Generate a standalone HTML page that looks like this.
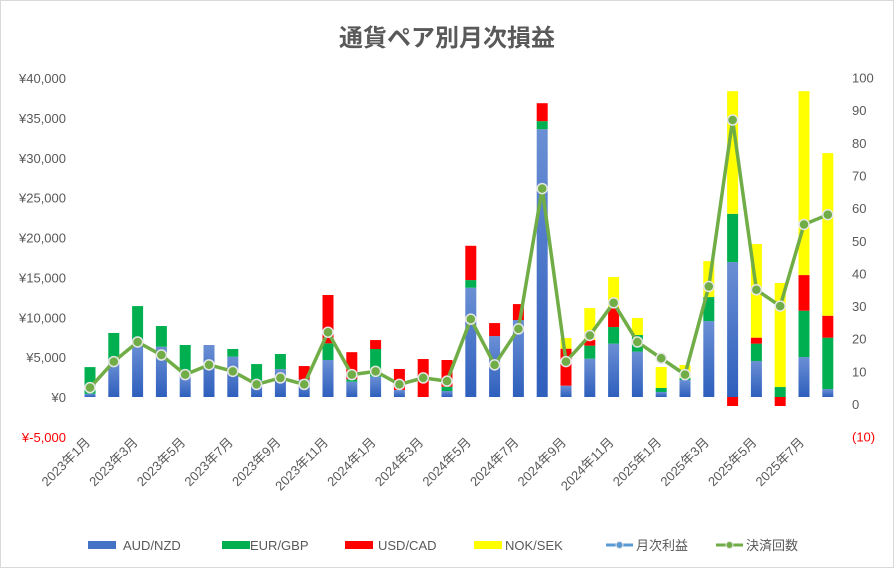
<!DOCTYPE html>
<html><head><meta charset="utf-8"><style>
body{margin:0;background:#fff;}
svg text{font-family:"Liberation Sans","Noto Sans CJK JP",sans-serif;}
</style></head><body>
<svg id="c" width="894" height="568" viewBox="0 0 894 568">
<defs><linearGradient id="bg" x1="0" y1="0" x2="0" y2="1"><stop offset="0" stop-color="#6a8fd4"/><stop offset="1" stop-color="#2e5fbd"/></linearGradient></defs>
<rect x="0.5" y="0.5" width="893" height="567" fill="#fff" stroke="#d9d9d9"/>
<text x="447" y="46" text-anchor="middle" font-size="24" font-weight="bold" fill="#595959">通貨ペア別月次損益</text>
<g id="axes"></g><g id="bars"></g><g id="line"></g><g id="legend"></g>
</svg>
<script>
const months=["2023年1月","2023年2月","2023年3月","2023年4月","2023年5月","2023年6月","2023年7月","2023年8月","2023年9月","2023年10月","2023年11月","2023年12月","2024年1月","2024年2月","2024年3月","2024年4月","2024年5月","2024年6月","2024年7月","2024年8月","2024年9月","2024年10月","2024年11月","2024年12月","2025年1月","2025年2月","2025年3月","2025年4月","2025年5月","2025年6月","2025年7月","2025年8月"];
const audNzd=[400,4430,6700,6300,2760,6520,5060,2130,3500,2200,4640,1920,2550,880,0,750,13700,7640,9650,33580,1420,4800,6690,5690,630,2130,9520,16920,4510,0,5010,1000];
const eurGbp=[3350,3600,4700,2600,3760,0,960,2000,1890,0,2090,300,3470,0,0,540,960,0,0,1010,0,1640,2080,2080,500,250,3010,6050,2180,1250,5810,6440];
const usdCad=[0,0,0,0,0,0,0,0,0,1680,6060,3400,1120,2630,4760,3350,4300,1630,2000,2250,4640,700,2430,0,0,0,0,-1130,750,-1130,4470,2750];
const nokSek=[0,0,0,0,0,0,0,0,0,0,0,0,0,0,0,0,0,0,0,0,1330,4010,3840,2130,2630,1630,4510,15380,11740,13040,23060,20390];
const trades=[5,13,19,15,9,12,10,6,8,6,22,9,10,6,8,7,26,12,23,66,13,21,31,19,14,9,36,87,35,30,55,58];
const leftTicks=[-5000,0,5000,10000,15000,20000,25000,30000,35000,40000];
const rightTicks=[-10,0,10,20,30,40,50,60,70,80,90,100];
const NS="http://www.w3.org/2000/svg";
function mk(t,a,p){const e=document.createElementNS(NS,t);for(const k in a)e.setAttribute(k,a[k]);p.appendChild(e);return e;}
const yL=v=>397-v*(319/40000);
const yR=v=>404-v*3.264;
const xB=i=>90+i*23.8;
const ax=document.getElementById('axes');
leftTicks.forEach(v=>{const t=mk('text',{x:66,y:yL(v)+5,'text-anchor':'end','font-size':13,fill:v<0?'#ff0000':'#595959'},ax);


t.textContent=v<0?'¥-'+(-v).toLocaleString('en-US'):'¥'+v.toLocaleString('en-US');});
rightTicks.forEach(v=>{const t=mk('text',{x:852,y:yR(v)+5,'font-size':13,fill:v<0?'#ff0000':'#595959'},ax);


t.textContent=v<0?'('+(-v)+')':String(v);});
months.forEach((m,i)=>{if(i%2)return;const x=xB(i)+1,y=443;const t=mk('text',{x:x,y:y,'text-anchor':'end','font-size':13,fill:'#595959',transform:`rotate(-45 ${x} ${y})`},ax);


t.textContent=m;});
const bg=document.getElementById('bars');
const series=[[audNzd,'url(#bg)','aud-nzd'],[eurGbp,'#00b050','eur-gbp'],[usdCad,'#ff0000','usd-cad'],[nokSek,'#ffff00','nok-sek']];
months.forEach((m,i)=>{let pos=0,neg=0;series.forEach(([arr,col,nm])=>{const v=arr[i];if(!v)return;let y0,y1;
if(v>0){y0=yL(pos+v);y1=yL(pos);pos+=v;}else{y0=yL(neg);y1=yL(neg+v);neg+=v;}
const r=mk('rect',{x:xB(i)-5.5,y:y0,width:11,height:y1-y0,fill:col},bg);

});});
const lg=document.getElementById('line');
const pl=mk('polyline',{points:trades.map((v,i)=>xB(i)+','+yR(v)).join(' '),fill:'none',stroke:'#70ad47','stroke-width':3.5,'stroke-linejoin':'round'},lg);


trades.forEach((v,i)=>{const c=mk('circle',{cx:xB(i),cy:yR(v),r:5,fill:'#70ad47',stroke:'#e6e6e6','stroke-width':1.5},lg);

});
const L=document.getElementById('legend');
const items=[['AUD/NZD',88,'rect','#4472c4',123],['EUR/GBP',222,'rect','#00b050',250],['USD/CAD',345,'rect','#ff0000',378],['NOK/SEK',474,'rect','#ffff00',505],['月次利益',606,'line','#5b9bd5',636],['決済回数',716,'line','#70ad47',746]];
items.forEach(([n,x,k,c,tx])=>{const g=mk('g',{},L);


if(k==='rect')mk('rect',{x:x,y:541,width:28,height:8,fill:c},g);
else{mk('line',{x1:x,y1:545,x2:x+27,y2:545,stroke:c,'stroke-width':3},g);mk('circle',{cx:x+13.5,cy:545,r:3.5,fill:c,stroke:'#e6e6e6'},g);}
const t=mk('text',{x:tx,y:550,'font-size':13,fill:'#595959'},g);t.textContent=n;});
</script>
</body></html>
